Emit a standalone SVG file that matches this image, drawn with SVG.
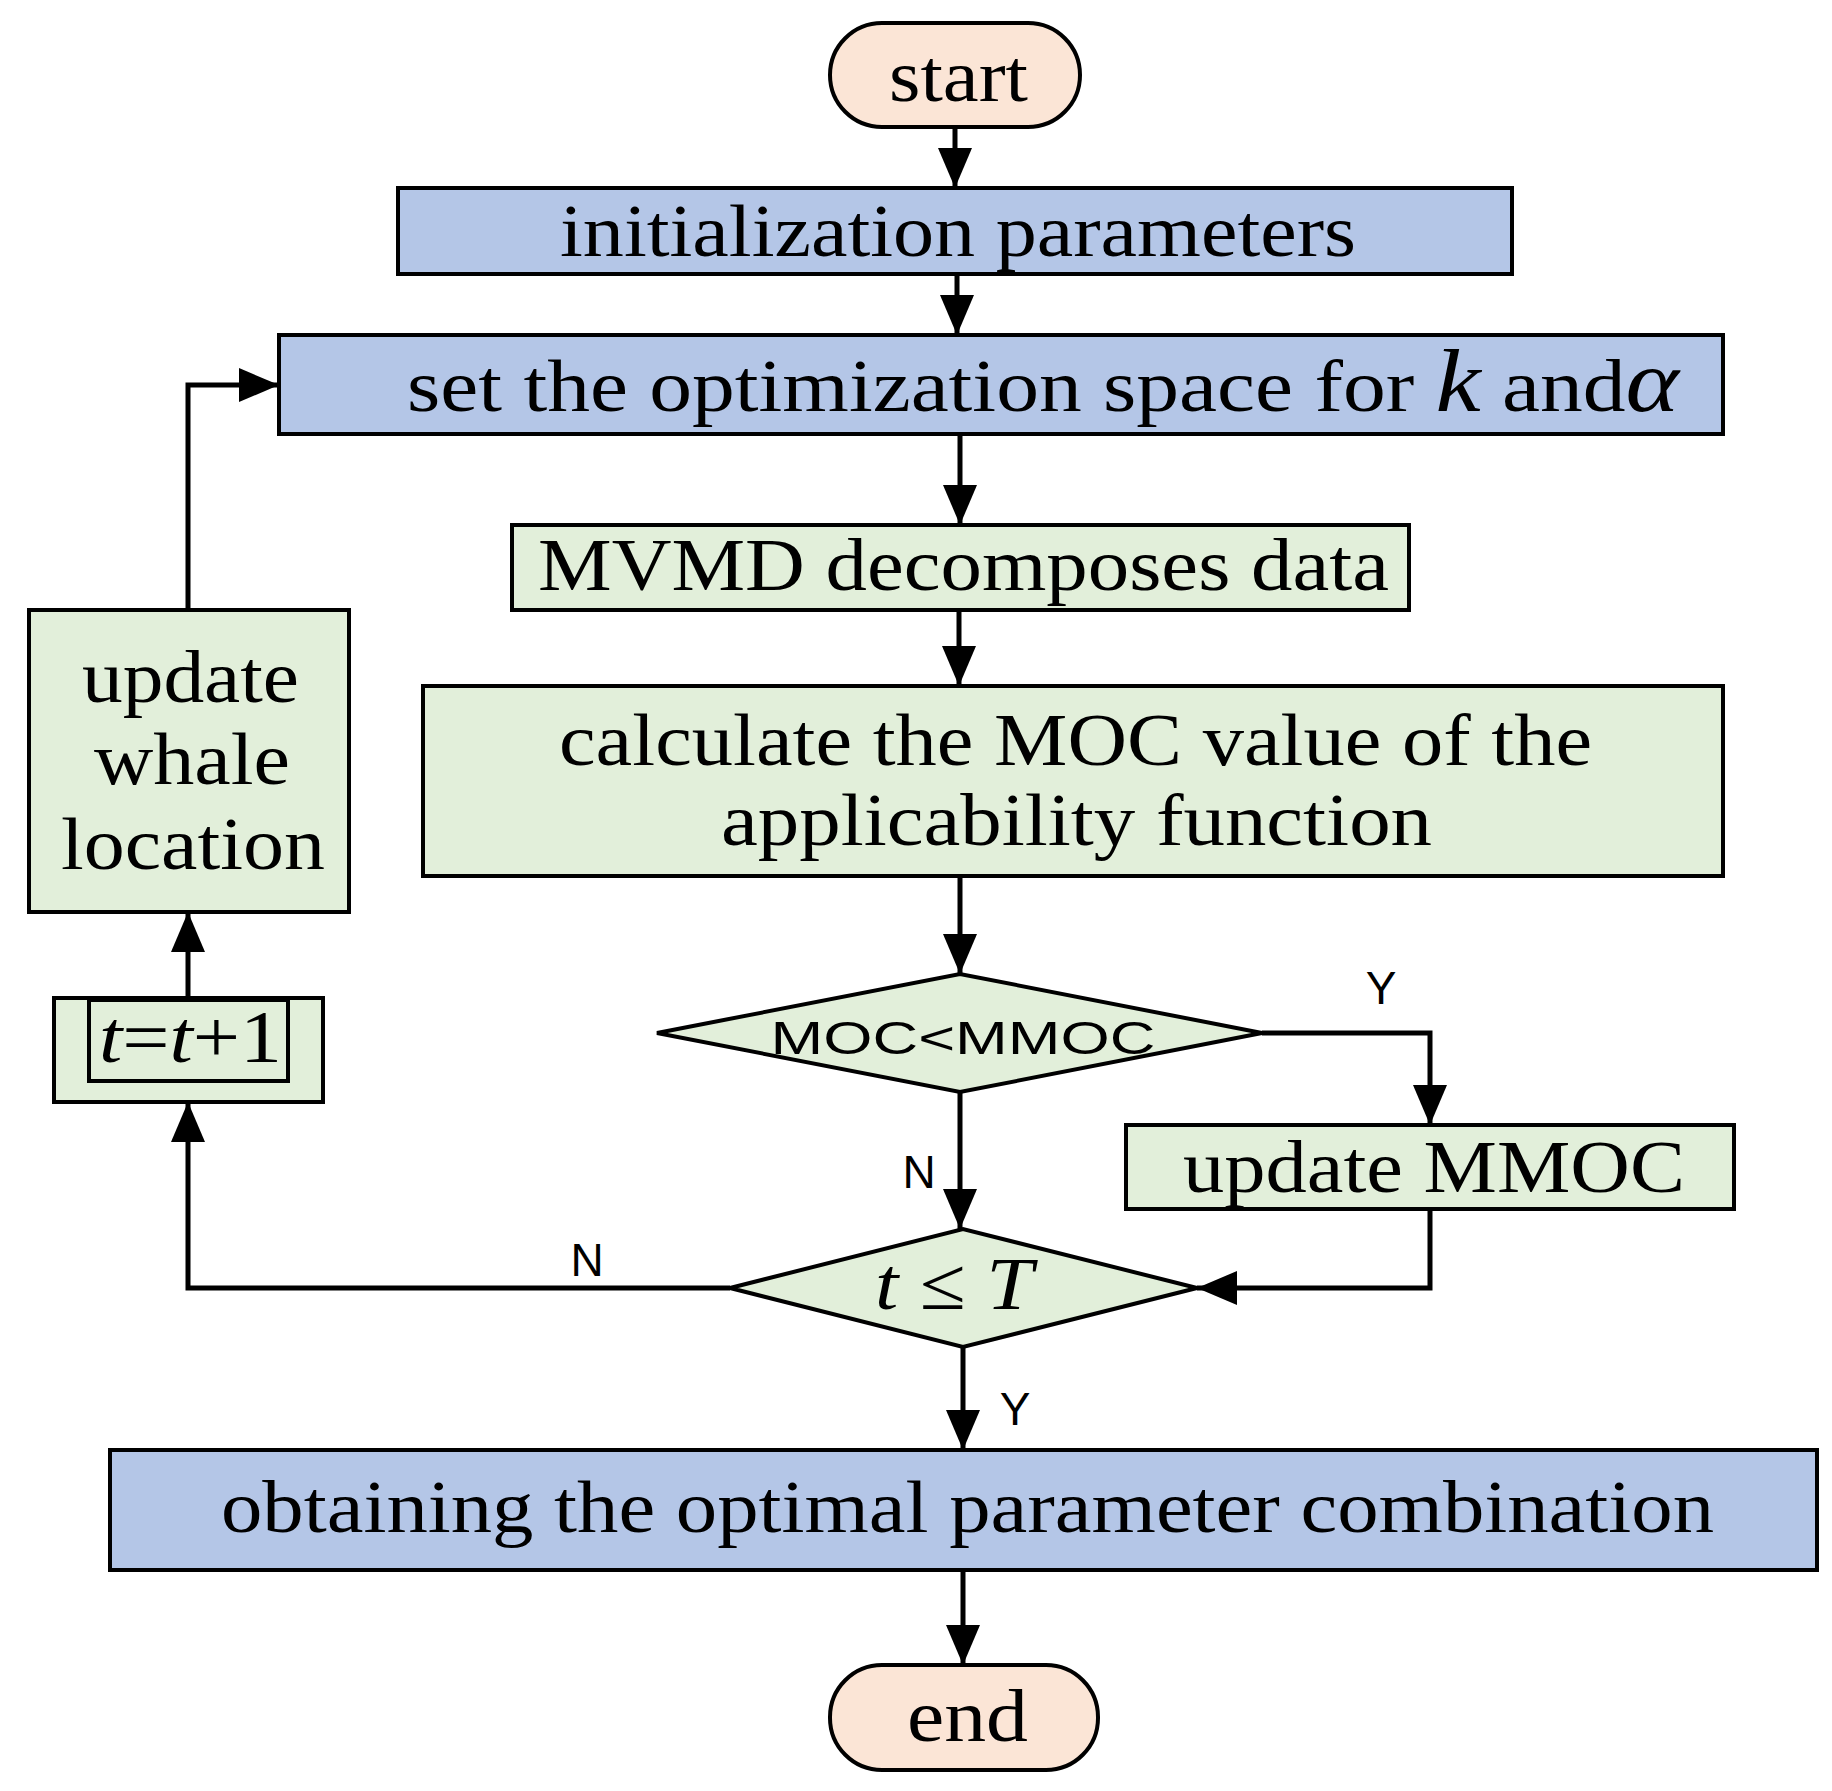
<svg xmlns="http://www.w3.org/2000/svg" width="1832" height="1791" viewBox="0 0 1832 1791">
<style>
.b{fill:#b4c6e7;stroke:#000;stroke-width:4}
.g{fill:#e2efda;stroke:#000;stroke-width:4}
.o{fill:#fbe5d6;stroke:#000;stroke-width:4}
.t{font-family:"Liberation Serif",serif;font-size:74px;fill:#000}
.s{font-family:"Liberation Sans",sans-serif;font-size:46px;text-anchor:middle;fill:#000}
.c{fill:none;stroke:#000;stroke-width:5}
</style>
<defs><marker id="a" markerUnits="userSpaceOnUse" markerWidth="40" markerHeight="40" viewBox="0 0 40 40" refX="40" refY="20" orient="auto"><path d="M0,3L40,20L0,37z" fill="#000"/></marker></defs>
<rect width="1832" height="1791" fill="#fff"/>
<g id="connectors">
<path class="c" marker-end="url(#a)" d="M955,127V188"/>
<path class="c" marker-end="url(#a)" d="M957,274V335"/>
<path class="c" marker-end="url(#a)" d="M960,434V525"/>
<path class="c" marker-end="url(#a)" d="M959,610V686"/>
<path class="c" marker-end="url(#a)" d="M960,876V974"/>
<path class="c" marker-end="url(#a)" d="M960,1092V1229"/>
<path class="c" marker-end="url(#a)" d="M1262,1033H1430V1125"/>
<path class="c" marker-end="url(#a)" d="M1430,1209V1288H1197"/>
<path class="c" marker-end="url(#a)" d="M730,1288H188V1102"/>
<path class="c" marker-end="url(#a)" d="M188,998V912"/>
<path class="c" marker-end="url(#a)" d="M188,610V385H279"/>
<path class="c" marker-end="url(#a)" d="M963,1347V1450"/>
<path class="c" marker-end="url(#a)" d="M963,1570V1665"/>
<text class="s" x="1381" y="1004">Y</text>
<text class="s" x="919" y="1188">N</text>
<text class="s" x="587" y="1276">N</text>
<text class="s" x="1015" y="1425">Y</text>
</g>
<g id="start"><rect class="o" x="830" y="23" width="250" height="104" rx="52"/><text class="t" x="889" y="101" textLength="139" lengthAdjust="spacingAndGlyphs">start</text></g>
<g id="init"><rect class="b" x="398" y="188" width="1114" height="86"/><text class="t" x="560" y="256" textLength="796" lengthAdjust="spacingAndGlyphs">initialization parameters</text></g>
<g id="set"><rect class="b" x="279" y="335" width="1444" height="99"/><text class="t" x="407" y="411" textLength="1272" lengthAdjust="spacingAndGlyphs">set the optimization space for <tspan font-style="italic" font-size="88">k</tspan> and<tspan font-style="italic" font-size="88">α</tspan></text></g>
<g id="mvmd"><rect class="g" x="512" y="525" width="897" height="85"/><text class="t" x="538" y="590" textLength="851" lengthAdjust="spacingAndGlyphs">MVMD decomposes data</text></g>
<g id="calc"><rect class="g" x="423" y="686" width="1300" height="190"/><text class="t" x="559" y="765" textLength="1033" lengthAdjust="spacingAndGlyphs">calculate the MOC value of the</text><text class="t" x="721" y="845" textLength="711" lengthAdjust="spacingAndGlyphs">applicability function</text></g>
<g id="d1"><path class="g" d="M657,1033L960,974L1262,1033L960,1092z"/><text class="s" x="963" y="1054" font-size="54" textLength="385" lengthAdjust="spacingAndGlyphs">MOC&lt;MMOC</text></g>
<g id="mmoc"><rect class="g" x="1126" y="1125" width="608" height="84"/><text class="t" x="1183" y="1192" textLength="502" lengthAdjust="spacingAndGlyphs">update MMOC</text></g>
<g id="d2"><path class="g" d="M730,1288L963,1229L1197,1288L963,1347z"/><text class="t" x="875" y="1309" font-style="italic" font-size="76" textLength="158" lengthAdjust="spacingAndGlyphs">t ≤ T</text></g>
<g id="obtain"><rect class="b" x="110" y="1450" width="1707" height="120"/><text class="t" x="221" y="1532" textLength="1493" lengthAdjust="spacingAndGlyphs">obtaining the optimal parameter combination</text></g>
<g id="end"><rect class="o" x="830" y="1665" width="268" height="105" rx="52"/><text class="t" x="907" y="1741" textLength="121" lengthAdjust="spacingAndGlyphs">end</text></g>
<g id="whale"><rect class="g" x="29" y="610" width="320" height="302"/><text class="t" x="82" y="702" textLength="217" lengthAdjust="spacingAndGlyphs">update</text><text class="t" x="94" y="784" textLength="196" lengthAdjust="spacingAndGlyphs">whale</text><text class="t" x="61" y="869" textLength="264" lengthAdjust="spacingAndGlyphs">location</text></g>
<g id="inc"><rect class="g" x="54" y="998" width="269" height="104"/><rect fill="none" stroke="#000" stroke-width="4" x="89" y="1000" width="199" height="81"/><text class="t" x="99" y="1062" font-size="66" textLength="183" lengthAdjust="spacingAndGlyphs"><tspan font-style="italic">t</tspan>=<tspan font-style="italic">t</tspan>+1</text></g>
</svg>
